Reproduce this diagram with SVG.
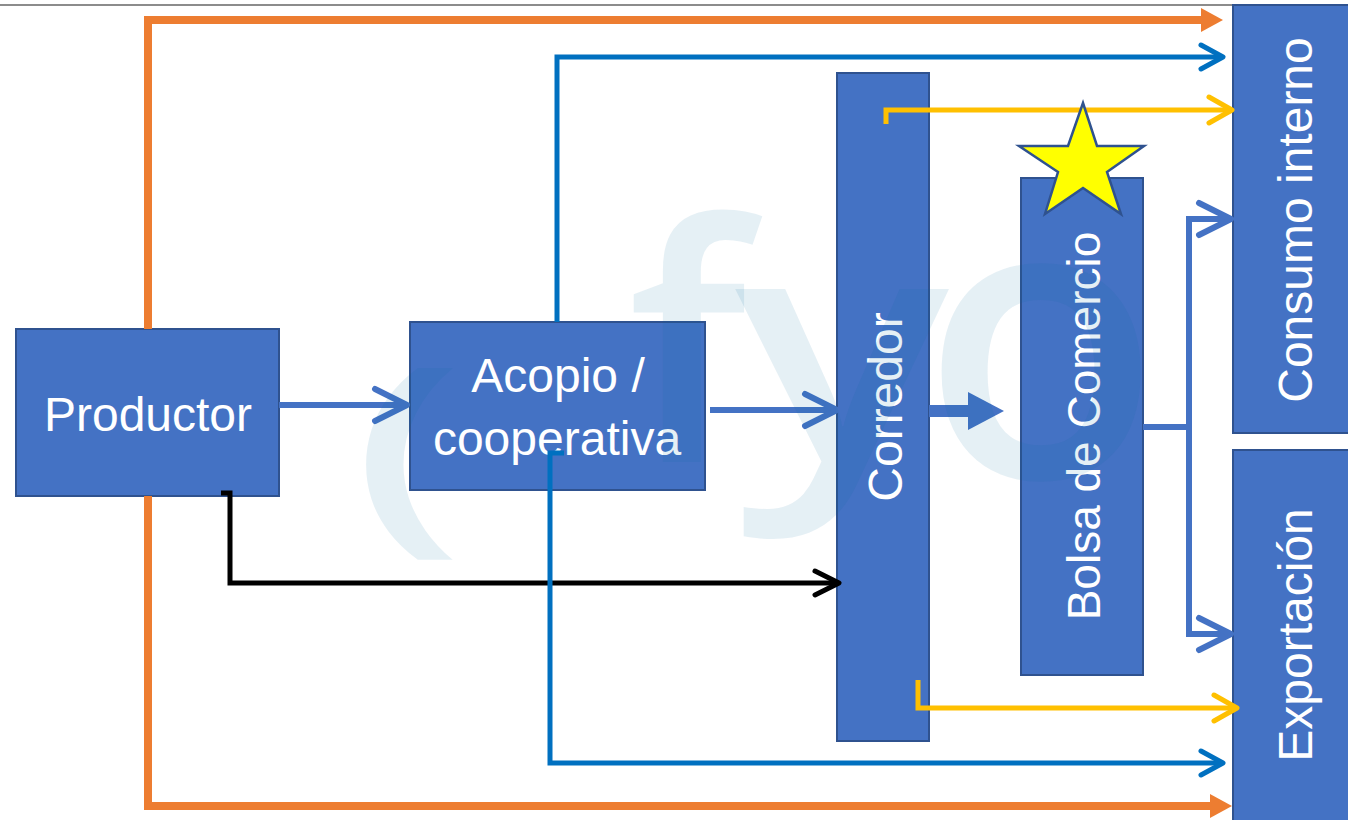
<svg xmlns="http://www.w3.org/2000/svg" width="1348" height="820" viewBox="0 0 1348 820">
  <style>
    .box { fill: #4472c4; stroke: #2f528f; stroke-width: 2; }
    .lbl { fill: #ffffff; font-family: "Liberation Sans", Arial, sans-serif; font-size: 48px; text-anchor: middle; }
    .wm { fill: #0070a0; fill-opacity: 0.1; font-family: "Open Sans", "Liberation Sans", sans-serif; font-weight: 600; }
    .ln { fill: none; stroke-linejoin: miter; }
  </style>
  <defs>
    <marker id="triO" markerUnits="userSpaceOnUse" viewBox="-14 -14 26 28" refX="0" refY="0" markerWidth="26" markerHeight="28" orient="auto">
      <path d="M-12,-12 L10,0 L-12,12 Z" fill="#ed7d31"/>
    </marker>
    <marker id="chevB" markerUnits="userSpaceOnUse" viewBox="-28 -16 32 32" refX="0" refY="0" markerWidth="32" markerHeight="32" orient="auto">
      <path d="M-22,-12 L0,0 L-22,12" fill="none" stroke="#0070c0" stroke-width="5" stroke-linecap="round" stroke-linejoin="round"/>
    </marker>
    <marker id="chevY" markerUnits="userSpaceOnUse" viewBox="-28 -17 32 34" refX="0" refY="0" markerWidth="32" markerHeight="34" orient="auto">
      <path d="M-23,-13 L0,0 L-23,13" fill="none" stroke="#ffc000" stroke-width="5" stroke-linecap="round" stroke-linejoin="round"/>
    </marker>
    <marker id="chevK" markerUnits="userSpaceOnUse" viewBox="-30 -17 34 34" refX="0" refY="0" markerWidth="34" markerHeight="34" orient="auto">
      <path d="M-24,-12 L0,0 L-24,12" fill="none" stroke="#000000" stroke-width="5" stroke-linecap="round" stroke-linejoin="round"/>
    </marker>
    <marker id="chevL" markerUnits="userSpaceOnUse" viewBox="-40 -22 44 44" refX="0" refY="0" markerWidth="44" markerHeight="44" orient="auto">
      <path d="M-32,-16 L0,0 L-32,16" fill="none" stroke="#4472c4" stroke-width="6" stroke-linecap="round" stroke-linejoin="round"/>
    </marker>
  </defs>
  <rect x="0" y="0" width="1348" height="820" fill="#ffffff"/>
  <line x1="0" y1="5" x2="1234" y2="5" stroke="#8c8c8c" stroke-width="2"/>

  <g id="productor">
    <rect class="box" x="16" y="329" width="263" height="167"/>
    <text class="lbl" x="148" y="431">Productor</text>
  </g>
  <g id="acopio">
    <rect class="box" x="410" y="322" width="295" height="168"/>
    <text class="lbl" x="558" y="392">Acopio /</text>
    <text class="lbl" x="557" y="455">cooperativa</text>
  </g>
  <g id="corredor">
    <rect class="box" x="837" y="73" width="92" height="668"/>
    <text class="lbl" transform="translate(902,407) rotate(-90)">Corredor</text>
  </g>
  <g id="bolsa">
    <rect class="box" x="1021" y="178" width="122" height="497"/>
    <text class="lbl" style="font-size:46px" transform="translate(1100,426) rotate(-90)">Bolsa de Comercio</text>
  </g>
  <g id="consumo">
    <rect class="box" x="1233" y="5" width="120" height="428"/>
    <text class="lbl" transform="translate(1312,220) rotate(-90)">Consumo interno</text>
  </g>
  <g id="exportacion">
    <rect class="box" x="1233" y="450" width="120" height="375"/>
    <text class="lbl" transform="translate(1312,635) rotate(-90)">Exportación</text>
  </g>

  <g id="connectors">
    <path class="ln" d="M148,329 V20 H1213" stroke="#ed7d31" stroke-width="8" marker-end="url(#triO)"/>
    <path class="ln" d="M148,496 V806 H1222" stroke="#ed7d31" stroke-width="8" marker-end="url(#triO)"/>
    <path class="ln" d="M221,493 H230 V583 H839" stroke="#000000" stroke-width="5" marker-end="url(#chevK)"/>
    <path class="ln" d="M557,322 V57 H1223" stroke="#0070c0" stroke-width="5" marker-end="url(#chevB)"/>
    <path class="ln" d="M564,453 H550 V763 H1223" stroke="#0070c0" stroke-width="5" marker-end="url(#chevB)"/>
    <path class="ln" d="M886,124 V110 H1232" stroke="#ffc000" stroke-width="5" marker-end="url(#chevY)"/>
    <path class="ln" d="M918,680 V708 H1237" stroke="#ffc000" stroke-width="5" marker-end="url(#chevY)"/>
    <path class="ln" d="M279,405 H407" stroke="#4472c4" stroke-width="6" marker-end="url(#chevL)"/>
    <path class="ln" d="M710,410 H837" stroke="#4472c4" stroke-width="6" marker-end="url(#chevL)"/>
    <path class="ln" d="M929,411 H970" stroke="#4472c4" stroke-width="12"/>
    <path d="M968,392 L1004,411 L968,430 Z" fill="#4472c4"/>
    <path class="ln" d="M1143,427 H1189 V219 H1231" stroke="#4472c4" stroke-width="6" marker-end="url(#chevL)"/>
    <path class="ln" d="M1189,424 V634 H1231" stroke="#4472c4" stroke-width="6" marker-end="url(#chevL)"/>
  </g>

  <g id="star">
    <polygon points="1083,103 1097,146 1144,146 1107,172 1121,214 1083,188 1045,214 1058,172 1019,146 1068,146" fill="#ffff00" stroke="#2f528f" stroke-width="2.5" stroke-linejoin="miter"/>
  </g>

  <g id="watermark">
    <text class="wm" font-size="220" transform="translate(352,525) scale(1.6,1)">(</text>
    <text class="wm" x="628" y="462" font-size="330">f</text>
    <text class="wm" font-size="320" transform="translate(735,462) scale(1.25,1)">y</text>
    <text class="wm" x="922" y="478" font-size="390">o</text>
  </g>
</svg>
